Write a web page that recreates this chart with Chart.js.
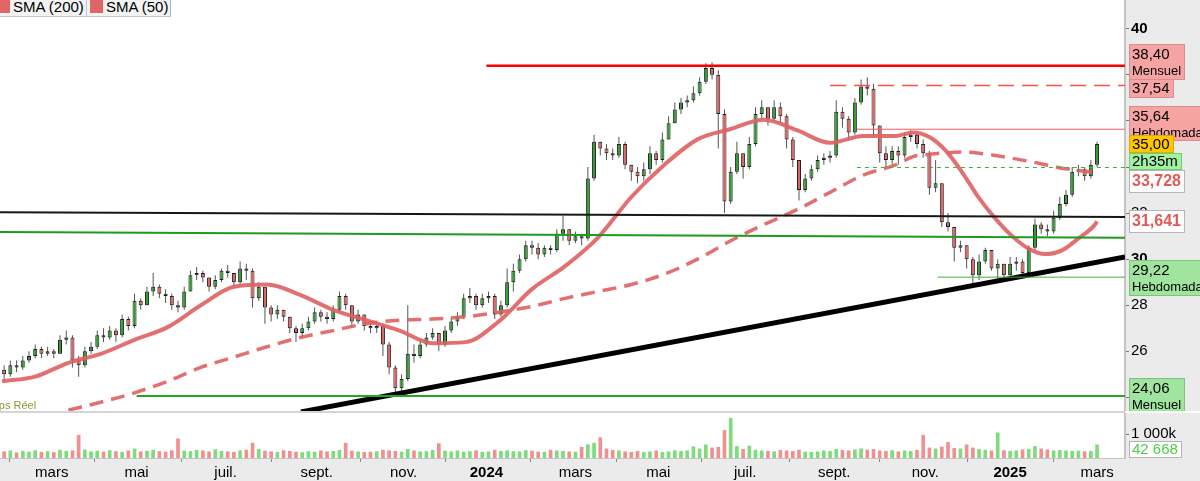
<!DOCTYPE html>
<html lang="fr">
<head>
<meta charset="utf-8">
<title>Cours et volumes</title>
<script src="https://cdn.jsdelivr.net/npm/chart.js@4.4.1/dist/chart.umd.min.js"></script>
<style>
  html, body { margin: 0; padding: 0; background: #fff; }
  #wrap { position: relative; width: 1200px; height: 481px; overflow: hidden; background: #fff; font-family: 'Liberation Sans', Arial, sans-serif; }
  #price { position: absolute; left: 0; top: 0; }
  #volume { position: absolute; left: 0; top: 413px; }
  #sep { position: absolute; left: 0; top: 411px; width: 1125px; height: 2px; background: #d4d4d4; }
  #legend { position: absolute; left: -4px; top: -4px; height: 19px; display: flex; background: #f3f3f3; border: 1px solid #c6c6c6; border-right-color: #9ab4d6; font-size: 15px; line-height: 19px; color: #000; }
  #legend span { display: flex; align-items: center; padding: 0 2px 0 3px; }
  #legend span:first-child { padding-left: 0; }
  #legend span + span { border-left: 1px solid #c6c6c6; }
  #legend i { display: inline-block; width: 13px; height: 13px; background: #e06666; margin-right: 3px; }
  #realtime { position: absolute; left: -22px; top: 399px; font-size: 11px; color: #8a9a2e; }
</style>
</head>
<body>
<div id="wrap">
  <canvas id="price" width="1200" height="411"></canvas>
  <div id="sep"></div>
  <canvas id="volume" width="1200" height="68"></canvas>
  <div id="legend"><span><i></i>SMA (200)</span><span><i></i>SMA (50)</span></div>
  <div id="realtime">Temps Réel</div>
</div>
<script>
// une bougie = 3 séances ; indice x = numéro de séance
const candleStep = 3;
const firstOpen = 25.2;

const closes = [
  25.0, 25.4, 25.3, 25.6, 25.8, 26.1, 25.9, 26.0, 25.9, 26.5,
  26.6, 25.6, 25.4, 26.0, 26.2, 26.7, 26.6, 26.9, 26.7, 27.4,
  27.1, 28.2, 28.0, 28.6, 28.8, 28.5, 28.4, 28.0, 27.9, 28.6,
  29.3, 29.4, 29.2, 28.8, 29.1, 29.5, 29.4, 29.0, 29.6, 29.5,
  28.3, 28.8, 27.9, 27.6, 27.8, 27.5, 27.0, 26.8, 27.0, 27.3,
  27.7, 27.5, 27.4, 27.8, 28.4, 28.0, 27.3, 27.6, 27.1, 27.0,
  27.1, 26.3, 25.3, 24.4, 24.8, 25.9, 25.8, 26.3, 26.6, 26.8,
  26.3, 26.9, 27.3, 27.5, 28.3, 28.4, 28.0, 28.3, 28.4, 27.6,
  28.0, 29.0, 29.5, 30.0, 30.6, 30.5, 30.2, 30.5, 30.4, 31.1,
  31.3, 30.8, 31.0, 30.9, 33.5, 35.1, 34.8, 34.6, 34.5, 35.0,
  34.1, 33.8, 33.6, 33.9, 34.6, 34.3, 35.2, 35.9, 36.5, 36.8,
  36.9, 37.2, 37.7, 38.3, 38.0, 36.3, 32.5, 33.8, 34.6, 34.0,
  35.0, 36.3, 36.6, 36.1, 36.6, 36.2, 35.2, 34.3, 33.0, 33.5,
  33.9, 34.3, 34.4, 34.5, 36.4, 36.1, 35.5, 36.8, 37.5, 37.4,
  35.8, 34.6, 34.3, 34.7, 34.5, 35.3, 35.4, 35.0, 34.6, 33.1,
  33.3, 31.6, 31.4, 30.5, 30.6, 30.0, 29.3, 29.9, 30.4, 29.6,
  29.8, 29.3, 29.8, 29.9, 29.4, 30.5, 31.5, 31.3, 31.2, 31.8,
  32.4, 32.8, 33.8, 33.9, 33.6, 34.1, 35.0
];
const highs = [
  25.4, 25.6, 25.6, 25.8, 26.0, 26.3, 26.2, 26.2, 26.1, 26.7,
  26.9, 26.7, 25.8, 26.2, 26.4, 26.9, 27.0, 27.1, 27.0, 27.6,
  27.5, 28.5, 28.3, 28.8, 29.4, 28.9, 28.7, 28.5, 28.2, 28.8,
  29.5, 29.66, 29.5, 29.2, 29.3, 29.6, 29.75, 29.4, 29.9, 29.8,
  29.6, 29.0, 28.8, 28.0, 28.0, 27.8, 27.5, 27.1, 27.2, 27.5,
  27.9, 27.8, 27.7, 28.0, 28.6, 28.5, 28.0, 27.8, 27.6, 27.3,
  27.3, 27.2, 26.4, 25.4, 25.0, 28.0, 26.3, 26.5, 26.8, 27.0,
  26.8, 27.1, 27.5, 27.7, 28.5, 28.75, 28.5, 28.5, 28.6, 28.5,
  28.2, 29.6, 29.8, 30.2, 30.8, 30.8, 30.7, 30.6, 30.6, 31.3,
  31.87, 31.3, 31.2, 31.1, 34.0, 35.4, 35.1, 35.0, 34.8, 35.3,
  35.1, 34.1, 34.0, 34.2, 34.9, 34.7, 35.5, 36.2, 36.8, 37.0,
  37.1, 37.5, 37.9, 38.5, 38.55, 38.2, 36.5, 34.0, 35.1, 34.6,
  35.3, 36.6, 36.9, 36.6, 36.9, 36.8, 36.3, 35.3, 34.3, 33.7,
  34.1, 34.5, 34.6, 34.7, 36.9, 36.6, 36.2, 37.0, 37.8, 37.9,
  37.6, 35.8, 34.9, 34.9, 34.9, 35.5, 35.6, 35.5, 35.2, 34.7,
  34.3, 33.3, 32.0, 31.4, 30.8, 30.6, 30.1, 30.2, 30.5, 30.4,
  30.0, 29.8, 30.1, 30.1, 30.0, 30.6, 31.75, 31.6, 31.5, 32.1,
  32.7, 33.0, 34.0, 34.1, 34.0, 34.3, 35.1
];
const lows = [
  24.7, 24.9, 25.1, 25.2, 25.5, 25.7, 25.7, 25.8, 25.7, 25.9,
  26.3, 25.3, 24.9, 25.3, 25.9, 26.1, 26.4, 26.5, 26.4, 26.6,
  26.9, 27.0, 27.8, 28.0, 28.4, 28.3, 28.1, 27.8, 27.7, 27.8,
  28.6, 29.1, 29.0, 28.6, 28.7, 29.0, 29.2, 28.8, 28.9, 29.1,
  27.9, 28.2, 27.2, 27.3, 27.4, 27.3, 26.8, 26.4, 26.6, 26.9,
  27.2, 27.3, 27.2, 27.3, 27.7, 27.8, 27.0, 27.2, 26.9, 26.8,
  26.8, 25.8, 25.0, 24.1, 24.2, 24.7, 25.5, 25.7, 26.2, 26.5,
  26.0, 26.2, 26.8, 27.1, 27.4, 28.1, 27.8, 27.9, 28.1, 27.4,
  27.5, 27.9, 28.6, 29.4, 29.9, 30.2, 30.0, 30.1, 30.2, 30.3,
  30.8, 30.6, 30.7, 30.6, 30.8, 33.4, 34.5, 34.3, 34.3, 34.4,
  33.9, 33.4, 33.3, 33.4, 33.7, 34.1, 34.2, 35.2, 35.9, 36.3,
  36.6, 36.8, 37.1, 37.6, 37.8, 34.8, 32.0, 32.4, 33.7, 33.5,
  33.9, 34.9, 36.1, 35.8, 36.0, 35.9, 34.8, 34.0, 32.55, 32.9,
  33.4, 33.8, 34.1, 34.2, 34.4, 35.7, 35.2, 35.4, 36.7, 37.1,
  35.3, 34.2, 34.0, 34.1, 34.1, 34.4, 35.1, 34.8, 34.4, 32.8,
  32.9, 31.4, 31.2, 29.9, 30.3, 29.6, 28.9, 29.1, 29.8, 29.5,
  29.1, 29.1, 29.2, 29.5, 29.2, 29.3, 30.4, 31.1, 31.0, 31.1,
  31.7, 32.3, 32.7, 33.6, 33.4, 33.5, 34.0
];
// volumes en milliers de titres
const volumes = [
  260, 300, 220, 280, 250, 310, 240, 270, 230, 330,
  280, 300, 950, 340, 260, 290, 250, 310, 270, 240,
  300, 380, 260, 290, 330, 270, 250, 310, 800, 290,
  270, 320, 300, 260, 350, 280, 260, 240, 300, 330,
  620, 360, 290, 260, 240, 310, 280, 250, 230, 270,
  250, 300, 260, 280, 320, 620, 290, 260, 240, 250,
  270, 330, 300, 280, 250, 360, 300, 260, 270, 320,
  600, 290, 260, 300, 250, 270, 310, 240, 260, 330,
  280, 300, 270, 260, 310, 290, 250, 240, 330, 300,
  280, 260, 250, 450, 560, 620, 850, 380, 320, 300,
  260, 240, 280, 230, 260, 300, 240, 260, 310, 280,
  300, 470, 380, 550, 420, 450, 1150, 1650, 480, 360,
  500, 330, 300, 280, 260, 320, 300, 280, 330, 250,
  240, 260, 300, 280, 360, 320, 300, 340, 380, 330,
  360, 300, 280, 310, 260, 300, 280, 320, 950, 420,
  380, 460, 650, 400, 380, 550, 420, 360, 330, 300,
  1050, 310, 280, 300, 340, 360, 480, 380, 340, 300,
  320, 300, 280, 290, 260, 280, 550
];
const lastVolume = 42.668;

const monthTickIdx = [24, 65, 108, 152, 194, 234, 277, 317, 359, 402, 446, 487, 529];
const monthTickLabels = ['mars', 'mai', 'juil.', 'sept.', 'nov.', '2024', 'mars', 'mai', 'juil.', 'sept.', 'nov.', '2025', 'mars'];

const smaIdx = [0, 16, 32, 48, 64, 80, 96, 112, 128, 144, 160, 176, 192, 208, 224, 240, 256,
  272, 288, 304, 320, 336, 352, 368, 384, 400, 416, 432, 440, 448, 456, 464, 472, 480, 488,
  496, 504, 512, 520, 528, 529];
const sma50 = [24.7, 24.9, 25.5, 25.9, 26.5, 27.05, 28.0, 28.8, 28.9, 28.45, 27.8, 27.35, 26.9, 26.35, 26.4, 27.3, 28.7,
  29.7, 30.95, 32.7, 34.1, 35.2, 35.65, 36.05, 35.6, 35.05, 35.35, 35.35, 35.5, 35.3, 34.7, 33.75, 32.65, 31.75, 31.0,
  30.45, 30.22, 30.38, 30.9, 31.5, 31.641];
const sma200 = [null, null, 23.45, 23.8, 24.2, 24.7, 25.3, 25.75, 26.2, 26.6, 26.9, 27.2, 27.35, 27.4, 27.5, 27.7, 27.95,
  28.3, 28.6, 28.9, 29.35, 30.0, 30.8, 31.5, 32.15, 32.9, 33.65, 34.1, 34.45, 34.55, 34.62, 34.65, 34.6, 34.5, 34.38,
  34.25, 34.1, 33.95, 33.85, 33.75, 33.728];

// niveaux horizontaux : [séance de départ, valeur]
const resistMensuel = [234, 38.40];
const resistDashed = [400, 37.54];
const resistHebdo = [413, 35.64];
const prevCloseLevel = [413, 33.98];
const supportHebdo = [452, 29.22];
const supportMensuel = [65, 24.06];
const blackChannel = [32.04, 31.83];  // gauche, droite
const greenChannel = [31.18, 30.93];
const trendStart = [144.4, 23.37];
const trendEnd = [542.5, 30.10];

const tagValues = [38.40, 37.54, 35.64, 35.00, 35.00, 33.728, 31.641, 29.22, 24.06];
const tagTexts = [['38,40', 'Mensuel'], ['37,54'], ['35,64', 'Hebdomadaire'], ['35,00'], ['2h35m'],
  ['33,728'], ['31,641'], ['29,22', 'Hebdomadaire'], ['24,06', 'Mensuel']];

const xMin = -1, xMax = 542.5;
const fontFamily = "'Liberation Sans', Arial, sans-serif";
Chart.defaults.font.family = fontFamily;
Chart.defaults.color = '#000';

const upColor = '#2f9e2f', downColor = '#e06464';
const candles = closes.map((c, k) => {
  const o = k === 0 ? firstOpen : closes[k - 1];
  return { x: candleStep * k + 1, o, c, h: highs[k], l: lows[k] };
});

function hLine(from, value, color, width, dash) {
  return {
    type: 'line', order: 0,
    data: [{ x: from, y: value }, { x: xMax, y: value }],
    borderColor: color, borderWidth: width, borderDash: dash || [],
    pointRadius: 0, fill: false, tension: 0
  };
}
function segment(a, b, color, width) {
  return {
    type: 'line', order: 0,
    data: [{ x: a[0], y: a[1] }, { x: b[0], y: b[1] }],
    borderColor: color, borderWidth: width, pointRadius: 0, fill: false, tension: 0
  };
}

const panelBg = {
  id: 'panelBg',
  beforeDraw(chart) {
    const { ctx, chartArea, width, height } = chart;
    ctx.save();
    ctx.fillStyle = '#fff';
    ctx.fillRect(0, 0, width, height);
    ctx.fillStyle = '#ebebeb';
    ctx.fillRect(chartArea.right, 0, width - chartArea.right, height);
    ctx.fillRect(0, chartArea.bottom, width, height - chartArea.bottom);
    ctx.restore();
  }
};

const redTag = { fill: '#f6a3a3', edge: '#d98e8e', ink: '#000' };
const greenTag = { fill: '#a0e4a0', edge: '#7cc47c', ink: '#000' };
const whiteTag = { fill: '#fff', edge: '#b5b5b5', ink: '#e05a5a', bold: true };
const tagStyles = [
  { ...redTag, dy: -22, h: 36 },
  { ...redTag, dy: -6, h: 19 },
  { ...redTag, dy: -23, h: 35 },
  { fill: '#ffc600', edge: '#e0a800', ink: '#000', dy: -9, h: 18 },
  { fill: '#a2f0a2', edge: '#72cc72', ink: '#000', dy: 9, h: 17 },
  { ...whiteTag, dy: -3, h: 23 },
  { ...whiteTag, dy: -11, h: 23 },
  { ...greenTag, dy: -17, h: 36 },
  { ...greenTag, dy: -18, h: 35 }
];

function drawTag(ctx, x, top, lines, st) {
  const mainFont = (st.bold ? 'bold 16px ' : '15px ') + fontFamily;
  const subFont = '13px ' + fontFamily;
  ctx.font = mainFont;
  let w = ctx.measureText(lines[0]).width;
  if (lines[1]) {
    ctx.font = subFont;
    w = Math.max(w, ctx.measureText(lines[1]).width);
  }
  w = Math.round(w + 7);
  ctx.fillStyle = st.fill;
  ctx.fillRect(x, top, w, st.h);
  ctx.strokeStyle = st.edge;
  ctx.lineWidth = 1;
  ctx.strokeRect(x + 0.5, top + 0.5, w - 1, st.h - 1);
  ctx.fillStyle = st.ink;
  ctx.textAlign = 'left';
  ctx.textBaseline = 'middle';
  ctx.font = mainFont;
  ctx.fillText(lines[0], x + 3, lines[1] ? top + 10.5 : top + st.h / 2 + 0.5);
  if (lines[1]) {
    ctx.font = subFont;
    ctx.fillText(lines[1], x + 3, top + 27);
  }
}

const priceTags = {
  id: 'priceTags',
  afterDraw(chart) {
    const { ctx, chartArea, scales } = chart;
    ctx.save();
    tagValues.forEach((v, i) => {
      const st = tagStyles[i];
      const top = Math.round(scales.y.getPixelForValue(v) + st.dy);
      drawTag(ctx, chartArea.right + 4, top, tagTexts[i], st);
    });
    ctx.restore();
  }
};

const volumeTag = {
  id: 'volumeTag',
  afterDraw(chart) {
    const { ctx, chartArea, scales } = chart;
    const y = scales.y.getPixelForValue(lastVolume);
    const top = Math.round(Math.min(y - 8, chartArea.bottom - 17));
    ctx.save();
    drawTag(ctx, chartArea.right + 4, top, ['42 668'], { fill: '#fff', edge: '#b5b5b5', ink: '#4ccf4c', h: 17 });
    ctx.restore();
  }
};

const noPadY = (s) => { s.width = 75; s.paddingTop = 0; s.paddingBottom = 0; };

new Chart(document.getElementById('price'), {
  type: 'bar',
  data: {
    datasets: [
      hLine(resistMensuel[0], resistMensuel[1], '#ff0000', 2.5),
      hLine(resistDashed[0], resistDashed[1], '#ff4d4d', 1.5, [16, 8]),
      hLine(resistHebdo[0], resistHebdo[1], '#ff5a5a', 1),
      hLine(prevCloseLevel[0], prevCloseLevel[1], '#3cb43c', 1, [4, 4]),
      hLine(supportHebdo[0], supportHebdo[1], '#3cb43c', 1),
      hLine(supportMensuel[0], supportMensuel[1], '#22a822', 2),
      segment([xMin, blackChannel[0]], [xMax, blackChannel[1]], '#161616', 2),
      segment([xMin, greenChannel[0]], [xMax, greenChannel[1]], '#1f9a1f', 2),
      segment(trendStart, trendEnd, '#000', 5),
      {
        type: 'line', order: 1,
        data: smaIdx.map((x, i) => ({ x, y: sma50[i] })),
        borderColor: 'rgba(224, 96, 96, 0.9)', borderWidth: 4,
        pointRadius: 0, fill: false, cubicInterpolationMode: 'monotone'
      },
      {
        type: 'line', order: 1,
        data: smaIdx.map((x, i) => ({ x, y: sma200[i] })),
        borderColor: 'rgba(224, 96, 96, 0.9)', borderWidth: 3.5, borderDash: [14, 8],
        pointRadius: 0, fill: false, cubicInterpolationMode: 'monotone'
      },
      {
        order: 2, grouped: false, maxBarThickness: 4, minBarLength: 1,
        data: candles.map(d => ({ x: d.x, y: [d.o, d.c] })),
        backgroundColor: candles.map(d => d.c >= d.o ? upColor : downColor),
        borderColor: '#1e1e1e', borderWidth: 1, borderSkipped: false
      },
      {
        order: 3, grouped: false, maxBarThickness: 1,
        data: candles.map(d => ({ x: d.x, y: [d.l, d.h] })),
        backgroundColor: '#555', borderWidth: 0
      }
    ]
  },
  options: {
    responsive: false,
    animation: false,
    devicePixelRatio: 1,
    layout: { padding: 0 },
    plugins: { legend: { display: false }, tooltip: { enabled: false } },
    scales: {
      x: { type: 'linear', min: xMin, max: xMax, offset: false, display: false },
      y: {
        position: 'right', min: 23.41, max: 41.25,
        afterFit: noPadY,
        border: { display: true, color: '#c4c4c4', width: 2 },
        grid: { drawOnChartArea: false, tickLength: 4, color: '#777' },
        ticks: {
          stepSize: 2, includeBounds: false, padding: 2, color: '#000',
          font: (c) => ({ size: 15, weight: c.tick && c.tick.value % 10 === 0 ? 'bold' : 'normal' })
        }
      }
    }
  },
  plugins: [panelBg, priceTags]
});

new Chart(document.getElementById('volume'), {
  type: 'bar',
  data: {
    datasets: [{
      data: candles.map((d, k) => ({ x: d.x, y: volumes[k] })),
      backgroundColor: candles.map(d => d.c >= d.o ? '#7edb7e' : '#f09090'),
      barThickness: 3, borderWidth: 0
    }]
  },
  options: {
    responsive: false,
    animation: false,
    devicePixelRatio: 1,
    layout: { padding: 0 },
    plugins: { legend: { display: false }, tooltip: { enabled: false } },
    scales: {
      x: {
        type: 'linear', min: xMin, max: xMax, offset: false,
        afterBuildTicks: (s) => { s.ticks = monthTickIdx.map(v => ({ value: v })); },
        afterFit: (s) => { s.height = 23; s.paddingLeft = 0; s.paddingRight = 0; },
        border: { display: true, color: '#c4c4c4' },
        grid: { drawOnChartArea: false, tickLength: 4, color: '#888' },
        ticks: {
          autoSkip: false, maxRotation: 0, padding: 2, color: '#000',
          callback: (v, i) => monthTickLabels[i],
          font: (c) => ({ size: 15, weight: /^\d{4}$/.test(monthTickLabels[c.index] || '') ? 'bold' : 'normal' })
        }
      },
      y: {
        position: 'right', min: 0, max: 1875,
        afterFit: noPadY,
        afterBuildTicks: (s) => { s.ticks = [{ value: 1000 }]; },
        border: { display: true, color: '#c4c4c4', width: 2 },
        grid: { drawOnChartArea: false, tickLength: 4, color: '#777' },
        ticks: { padding: 2, color: '#000', font: { size: 15 }, callback: () => '1 000k' }
      }
    }
  },
  plugins: [panelBg, volumeTag]
});
</script>
</body>
</html>
